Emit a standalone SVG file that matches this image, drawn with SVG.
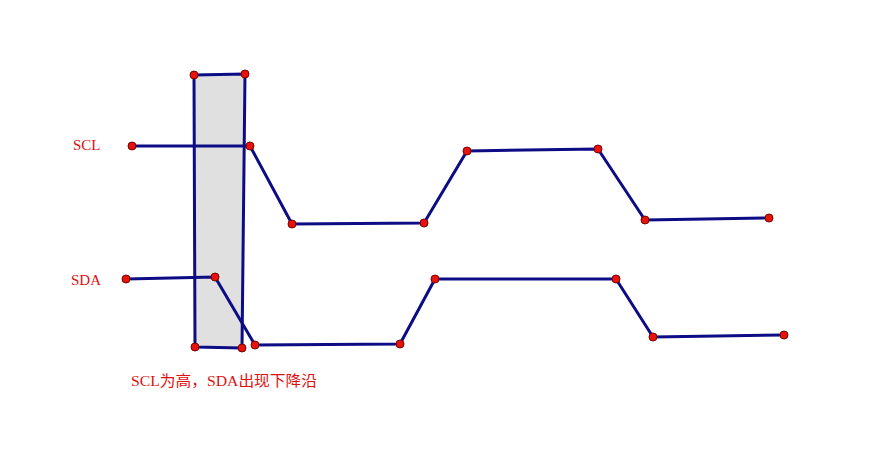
<svg xmlns="http://www.w3.org/2000/svg" width="879" height="468" viewBox="0 0 879 468">
<style>
.w{fill:none;stroke:#0c0c84;stroke-width:3;stroke-linejoin:round;stroke-linecap:round}
.p{fill:#e8120c;stroke:#7a0000;stroke-width:1}
.t{font-family:"Liberation Serif","Noto Sans CJK SC",serif;fill:#e01010;font-size:15px}
</style>
<rect width="879" height="468" fill="#fff"/>
<g id="box">
<polygon points="194,75 245,74 242,348 195,347" fill="#e0e0e0" stroke="#0c0c84" stroke-width="3" stroke-linejoin="round"/>
</g>
<g id="connectors">
<polyline class="w" points="132,146 250,146 292,224 424,223 467,151 598,149 645,220 769,218"/>
<polyline class="w" points="126,279 215,277 255,345 400,344 435,279 616,279 653,337 784,335"/>
</g>
<g id="points">
<circle class="p" cx="194" cy="75" r="4"/>
<circle class="p" cx="245" cy="74" r="4"/>
<circle class="p" cx="242" cy="348" r="4"/>
<circle class="p" cx="195" cy="347" r="4"/>
<circle class="p" cx="132" cy="146" r="4"/>
<circle class="p" cx="250" cy="146" r="4"/>
<circle class="p" cx="292" cy="224" r="4"/>
<circle class="p" cx="424" cy="223" r="4"/>
<circle class="p" cx="467" cy="151" r="4"/>
<circle class="p" cx="598" cy="149" r="4"/>
<circle class="p" cx="645" cy="220" r="4"/>
<circle class="p" cx="769" cy="218" r="4"/>
<circle class="p" cx="126" cy="279" r="4"/>
<circle class="p" cx="215" cy="277" r="4"/>
<circle class="p" cx="255" cy="345" r="4"/>
<circle class="p" cx="400" cy="344" r="4"/>
<circle class="p" cx="435" cy="279" r="4"/>
<circle class="p" cx="616" cy="279" r="4"/>
<circle class="p" cx="653" cy="337" r="4"/>
<circle class="p" cx="784" cy="335" r="4"/>
</g>
<g id="labels">
<text class="t" x="73" y="150">SCL</text>
<text class="t" x="71" y="285">SDA</text>
<text class="t" x="131" y="386" textLength="186" lengthAdjust="spacingAndGlyphs">SCL为高，SDA出现下降沿</text>
</g>
</svg>
